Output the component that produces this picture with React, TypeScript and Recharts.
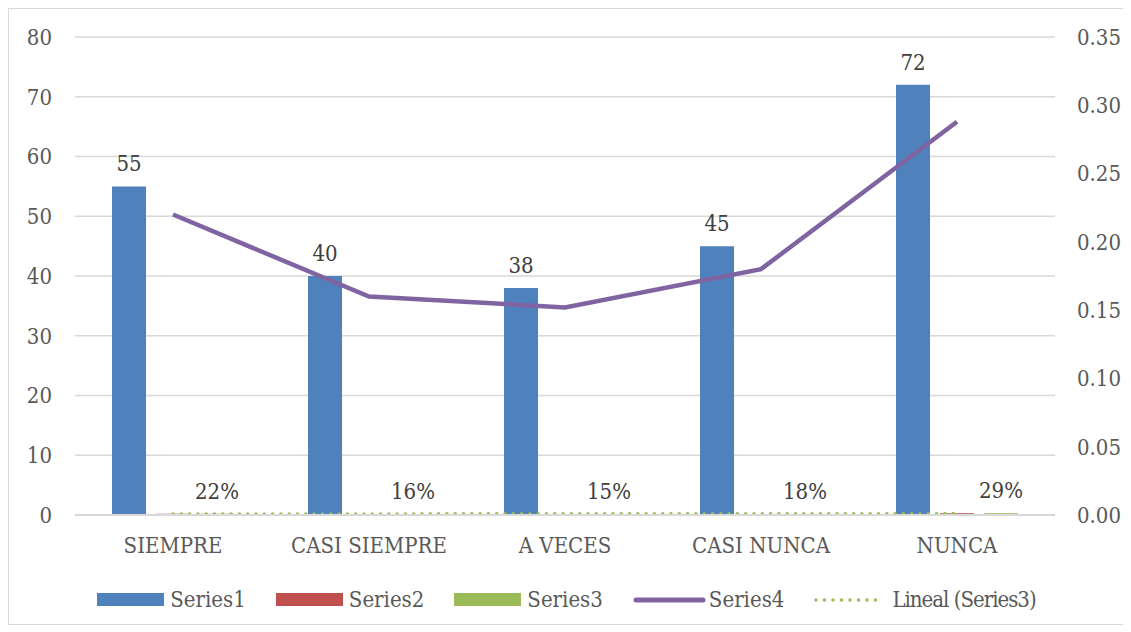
import {
  ComposedChart,
  Bar,
  Line,
  XAxis,
  YAxis,
  CartesianGrid,
  Legend,
  LabelList,
} from "recharts";

const categories = ["SIEMPRE", "CASI SIEMPRE", "A VECES", "CASI NUNCA", "NUNCA"];
const series1 = [55, 40, 38, 45, 72];
const series2 = [0.22, 0.16, 0.152, 0.18, 0.288];
const series3 = [0.22, 0.16, 0.152, 0.18, 0.288];
const series4 = [0.22, 0.16, 0.152, 0.18, 0.288];
const trendSeries3 = [0.1688, 0.1844, 0.2, 0.2156, 0.2312];
const pctLabels = ["22%", "16%", "15%", "18%", "29%"];
const leftTicks = [0, 10, 20, 30, 40, 50, 60, 70, 80];
const rightTicks = [0, 0.05, 0.1, 0.15, 0.2, 0.25, 0.3, 0.35];

const data = categories.map((name, i) => ({
  name,
  s1: series1[i],
  s2: series2[i],
  s3: series3[i],
  s4: series4[i],
  trend: trendSeries3[i],
  pct: pctLabels[i],
}));

const FONT = "'DejaVu Serif Condensed', 'DejaVu Serif', serif";
const tickStyle = { fill: "#595959", fontSize: 22, fontFamily: FONT };
const labelStyle = { fill: "#404040", fontSize: 22, fontFamily: FONT };

function LegendBox() {
  const text = { fontFamily: FONT, fontSize: 22, color: "#595959", marginLeft: 6 };
  const rect = (c: string) => (
    <span style={{ display: "inline-block", width: 67, height: 13, background: c }} />
  );
  return (
    <div
      style={{
        height: 49,
        display: "flex",
        alignItems: "center",
        justifyContent: "center",
        gap: 30,
      }}
    >
      <div style={{ display: "flex", alignItems: "center" }}>
        {rect("#4f81bd")}
        <span style={text}>Series1</span>
      </div>
      <div style={{ display: "flex", alignItems: "center" }}>
        {rect("#c0504d")}
        <span style={text}>Series2</span>
      </div>
      <div style={{ display: "flex", alignItems: "center" }}>
        {rect("#9bbb59")}
        <span style={text}>Series3</span>
      </div>
      <div style={{ display: "flex", alignItems: "center" }}>
        <svg width={73} height={8}>
          <line x1={3} y1={4} x2={70} y2={4} stroke="#8064a2" strokeWidth={5} strokeLinecap="round" />
        </svg>
        <span style={{ ...text, marginLeft: 3 }}>Series4</span>
      </div>
      <div style={{ display: "flex", alignItems: "center" }}>
        <svg width={72} height={6}>
          <line
            x1={2}
            y1={3}
            x2={70}
            y2={3}
            stroke="#9bbb59"
            strokeWidth={3.5}
            strokeLinecap="round"
            strokeDasharray="0 8.5"
          />
        </svg>
        <span style={{ ...text, letterSpacing: -1 }}>Lineal (Series3)</span>
      </div>
    </div>
  );
}

export default function App() {
  return (
    <div style={{ width: 1115, height: 615, border: "1px solid #d9d9d9", background: "#fff" }}>
      <ComposedChart
        width={1115}
        height={615}
        data={data}
        margin={{ top: 28, right: 0, left: 0, bottom: 0 }}
        barSize={34}
        barGap={10}
      >
        <CartesianGrid yAxisId="left" vertical={false} stroke="#d9d9d9" strokeWidth={1.5} />
        <XAxis
          dataKey="name"
          height={60}
          tickLine={false}
          tickSize={0}
          tickMargin={22}
          axisLine={{ stroke: "#d9d9d9", strokeWidth: 2 }}
          tick={tickStyle}
          interval={0}
        />
        <YAxis
          yAxisId="left"
          width={66}
          domain={[0, 80]}
          ticks={leftTicks}
          tickLine={false}
          tickSize={0}
          tickMargin={23}
          axisLine={false}
          tick={tickStyle}
        />
        <YAxis
          yAxisId="right"
          orientation="right"
          width={69}
          domain={[0, 0.35]}
          ticks={rightTicks}
          tickFormatter={(v: number) => v.toFixed(2)}
          tickLine={false}
          tickSize={0}
          tickMargin={22}
          axisLine={false}
          tick={tickStyle}
        />
        <Legend verticalAlign="bottom" height={49} content={() => <LegendBox />} />
        <Bar yAxisId="left" dataKey="s1" name="Series1" fill="#4f81bd" isAnimationActive={false}>
          <LabelList dataKey="s1" position="top" offset={15} style={labelStyle} />
        </Bar>
        <Bar yAxisId="left" dataKey="s2" name="Series2" fill="#c0504d" isAnimationActive={false} />
        <Bar yAxisId="left" dataKey="s3" name="Series3" fill="#9bbb59" isAnimationActive={false}>
          <LabelList dataKey="pct" position="top" offset={15} style={labelStyle} />
        </Bar>
        <Line
          yAxisId="left"
          dataKey="trend"
          name="Lineal (Series3)"
          stroke="#9bbb59"
          strokeWidth={3.5}
          strokeLinecap="round"
          strokeDasharray="0 8.3"
          dot={false}
          isAnimationActive={false}
        />
        <Line
          yAxisId="right"
          dataKey="s4"
          name="Series4"
          stroke="#8064a2"
          strokeWidth={4.5}
          dot={false}
          isAnimationActive={false}
        />
      </ComposedChart>
    </div>
  );
}
